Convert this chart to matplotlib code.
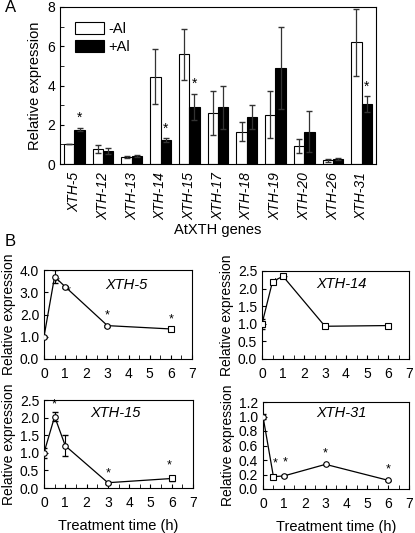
import matplotlib
matplotlib.use("Agg")
import matplotlib.pyplot as plt
import numpy as np
from matplotlib.ticker import MultipleLocator

plt.rcParams['font.family'] = ['Liberation Sans', 'DejaVu Sans']
plt.rcParams['font.size'] = 10

# panel A data
genes = ["XTH-5", "XTH-12", "XTH-13", "XTH-14", "XTH-15", "XTH-17",
         "XTH-18", "XTH-19", "XTH-20", "XTH-26", "XTH-31"]
minus_al = [1.0, 0.78, 0.35, 4.45, 5.6, 2.6, 1.65, 2.5, 0.9, 0.2, 6.2]
minus_al_err = [0.0, 0.2, 0.04, 1.4, 1.3, 1.1, 0.5, 1.2, 0.35, 0.08, 1.7]
plus_al = [1.75, 0.68, 0.4, 1.2, 2.9, 2.9, 2.4, 4.9, 1.65, 0.25, 3.05]
plus_al_err = [0.08, 0.15, 0.06, 0.1, 0.68, 1.1, 0.6, 2.1, 1.05, 0.06, 0.4]
star_genes = ["XTH-5", "XTH-14", "XTH-15", "XTH-31"]

# panel B data
times = [0, 0.5, 1, 3, 6]
xth5 = [1.0, 3.7, 3.25, 1.5, 1.35]
xth5_err = [0.05, 0.3, 0.05, 0.05, 0.08]
xth14 = [1.0, 2.2, 2.35, 0.93, 0.95]
xth14_err = [0.15, 0.05, 0.05, 0.05, 0.03]
xth15 = [1.0, 2.03, 1.2, 0.15, 0.27]
xth15_err = [0.15, 0.12, 0.3, 0.03, 0.08]
xth31 = [1.0, 0.17, 0.18, 0.34, 0.12]
xth31_err = [0.04, 0.02, 0.01, 0.01, 0.01]

W, H = 415, 533
fig = plt.figure(figsize=(W / 100, H / 100), dpi=100)


def box(l, t, r, b):
    return [l / W, 1 - b / H, (r - l) / W, (b - t) / H]


# ---- panel A
ax = fig.add_axes(box(60, 7, 376, 164))
x = np.arange(len(genes))
bw = 0.36
ax.bar(x - bw / 2, minus_al, bw, color="white", edgecolor="black", lw=0.8, label="-Al")
ax.bar(x + bw / 2, plus_al, bw, color="black", edgecolor="black", lw=0.8, label="+Al")
ax.errorbar(x - bw / 2, minus_al, yerr=minus_al_err, fmt="none", ecolor="#333333",
            elinewidth=0.9, capsize=2)
ax.errorbar(x + bw / 2, plus_al, yerr=plus_al_err, fmt="none", ecolor="#333333",
            elinewidth=0.9, capsize=2)
for g in star_genes:
    i = genes.index(g)
    ax.text(i + bw / 2, plus_al[i] + plus_al_err[i] + 0.15, "*", ha="center",
            va="bottom", fontsize=10)
ax.set_xlim(-0.5, len(genes) - 0.5)
ax.set_ylim(0, 8)
ax.yaxis.set_major_locator(MultipleLocator(2))
ax.yaxis.set_minor_locator(MultipleLocator(1))
ax.tick_params(axis="y", which="both", direction="in", length=3, labelsize=10)
ax.set_xticks(x)
ax.set_xticklabels(genes, rotation=90, style="italic", fontsize=10)
ax.tick_params(axis="x", length=0, pad=6)
ax.set_ylabel("Relative expression", fontsize=10.5)
ax.set_xlabel("AtXTH genes", fontsize=10.5, labelpad=2)
ax.legend(loc="upper left", frameon=False, fontsize=10.5, handlelength=2.0,
          handleheight=0.9, borderaxespad=0.6, labelspacing=0.3, handletextpad=0.3)
fig.text(5 / W, 1 - 8 / H, "A", fontsize=12, va="center", ha="left")
fig.text(5 / W, 1 - 242 / H, "B", fontsize=12, va="center", ha="left")

# ---- panel B
panels = [
    ("XTH-5", xth5, xth5_err, box(44, 270, 192, 359), 4.0, 1.0, "{:.1f}",
     ["o", "o", "o", "o", "s"], [None, (0.62, -0.55), (1.12, -0.5), (3, 0.2), (6, 0.15)],
     (0.56, 0.83), False),
    ("XTH-14", xth14, xth14_err, box(262, 271, 409, 359), 2.5, 0.5, "{:.1f}",
     ["s", "s", "s", "s", "s"], [None, (0.62, -0.22), (1.1, -0.3), None, None],
     (0.54, 0.85), False),
    ("XTH-15", xth15, xth15_err, box(44, 400, 193, 488), 2.5, 0.5, "{:.1f}",
     ["o", "o", "o", "o", "s"], [None, (0.5, 0.18), None, (3, 0.1), (5.9, 0.2)],
     (0.48, 0.85), True),
    ("XTH-31", xth31, xth31_err, box(263, 402, 409, 489), 1.2, 0.2, "{:.1f}",
     ["o", "s", "o", "o", "o"], [None, (0.6, 0.1), (1.05, 0.1), (3, 0.07), (6, 0.07)],
     (0.54, 0.87), True),
]

for name, vals, errs, pos, ymax, ystep, fmt, markers, stars, lab, bottom in panels:
    a = fig.add_axes(pos)
    a.plot(times, vals, color="black", lw=0.9, zorder=2)
    a.errorbar(times, vals, yerr=errs, fmt="none", ecolor="black", elinewidth=0.8,
               capsize=2, zorder=3)
    for t, v, m in zip(times, vals, markers):
        a.plot(t, v, marker=m, ms=4, mfc="white", mec="black", mew=0.8, zorder=4)
    for t, v, s in zip(times, vals, stars):
        if s is not None:
            a.text(s[0], v + s[1], "*", ha="center", va="bottom", fontsize=9)
    a.set_xlim(0, 7)
    a.set_ylim(0, ymax)
    a.xaxis.set_major_locator(MultipleLocator(1))
    a.xaxis.set_minor_locator(MultipleLocator(0.5))
    a.yaxis.set_major_locator(MultipleLocator(ystep))
    a.set_yticklabels([fmt.format(v) for v in a.get_yticks()])
    a.tick_params(which="both", direction="in", length=3, labelsize=10)
    a.tick_params(axis="x", pad=6)
    a.text(lab[0], lab[1], name, transform=a.transAxes, ha="center", va="center",
           style="italic", fontsize=10.5)
    a.set_ylabel("Relative expression", fontsize=10, labelpad=3)
    if bottom:
        a.set_xlabel("Treatment time (h)", fontsize=10.5, labelpad=6)

fig.savefig("out.png", dpi=100)
